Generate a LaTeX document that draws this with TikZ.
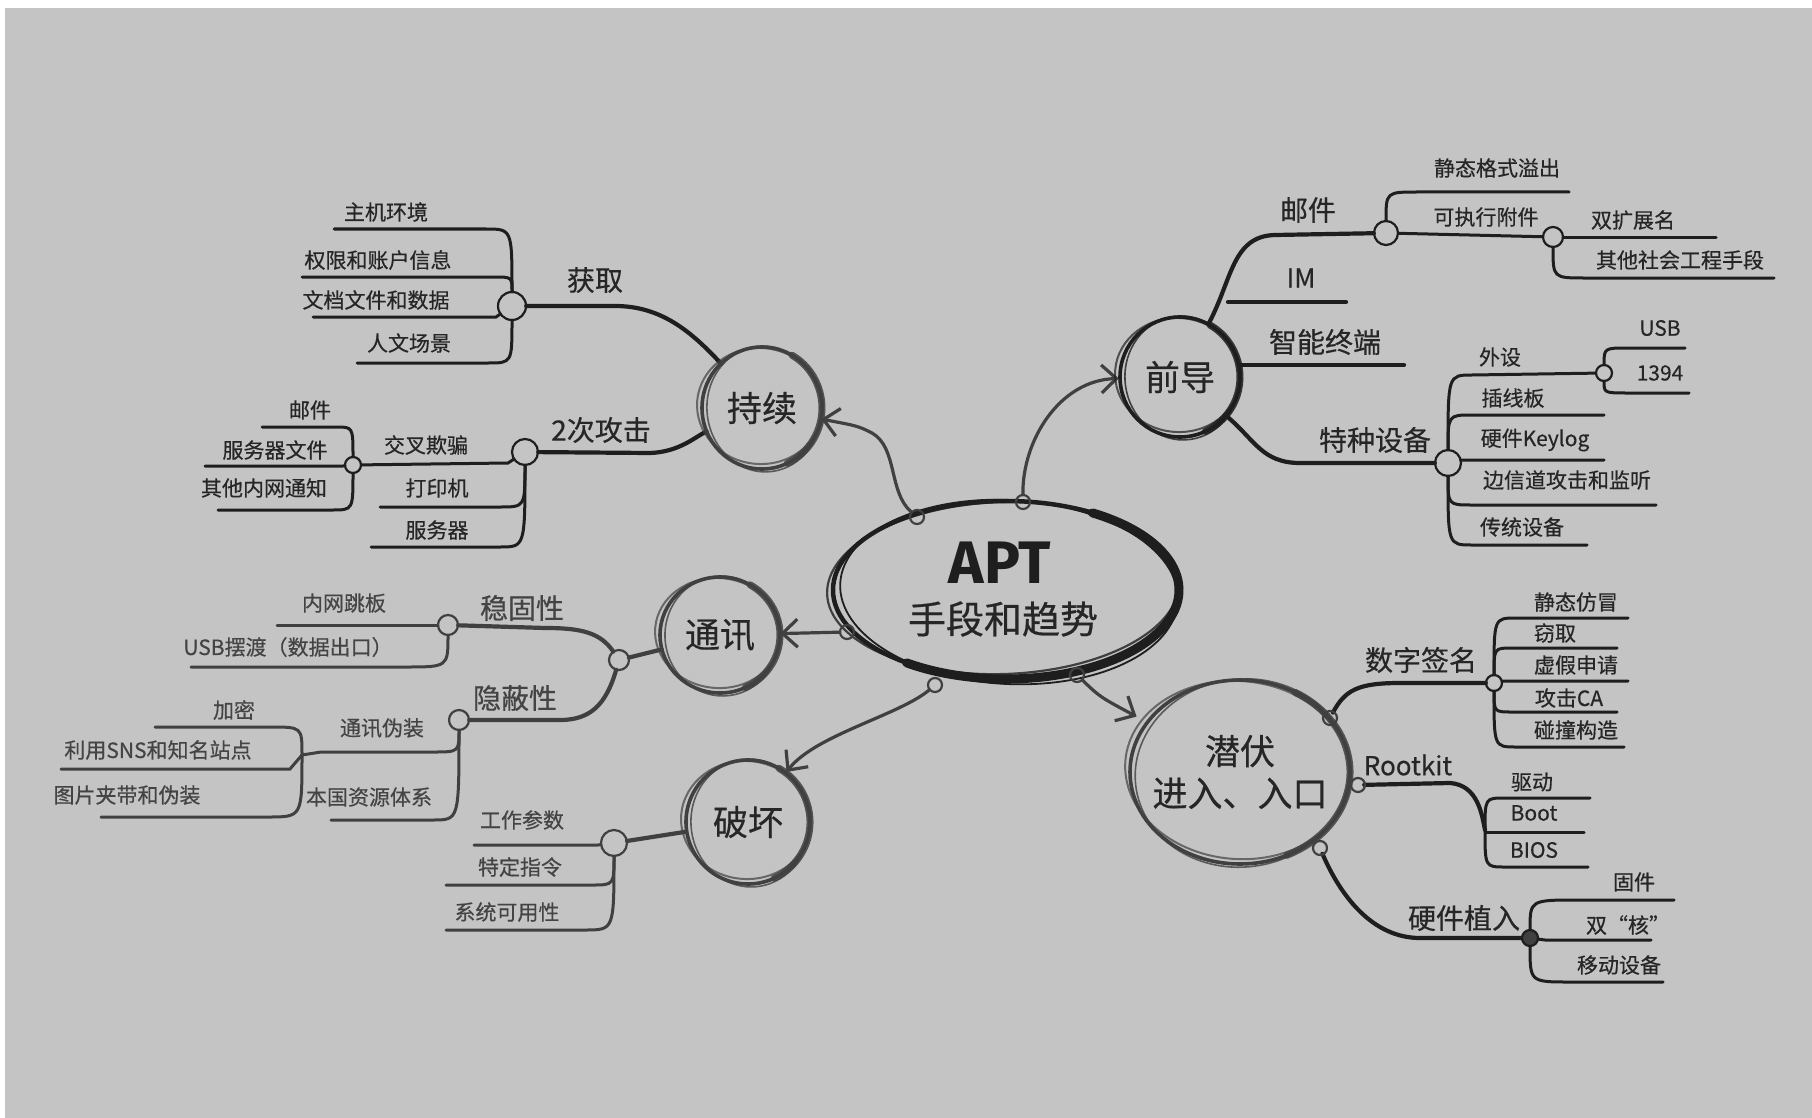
\documentclass[tikz,border=0pt]{standalone}
\usepackage{fontspec}
\usetikzlibrary{arrows.meta,shapes.geometric,calc}
\newfontfamily\cjkfont{Noto Sans CJK SC}[FakeBold=0.5]
\newfontfamily\aptfont{Fira Sans}

\definecolor{paper}{HTML}{C4C4C4}
\definecolor{ink}{HTML}{1E1E1E}
\definecolor{inksoft}{HTML}{404040}
\definecolor{txt}{HTML}{262626}
\definecolor{txtsoft}{HTML}{444444}

\tikzset{
  leaf/.style={font=\cjkfont\fontsize{21}{24}\selectfont, text=txt, inner sep=0pt},
  mid/.style={font=\cjkfont\fontsize{28}{32}\selectfont, text=txt, inner sep=0pt},
  topictext/.style={font=\cjkfont\fontsize{35}{42}\selectfont, text=txt, align=center},
  twigline/.style={draw=ink, line width=3pt, line cap=round},
  limb/.style={draw=ink, line width=4.2pt, line cap=round},
  hub/.style={circle, inner sep=0pt, minimum size=#1},
  knotring/.style={draw=ink, line width=2.2pt},
  flow/.style={draw=inksoft, line width=3.2pt, line cap=round,
    -{Straight Barb[length=15pt,width=28pt,line width=3.2pt]}},
}

% label with an underline hooked to a junction
\newcommand\twig[8]{%
  \node[leaf] (#2) at (#4,#5) {#3};
  \coordinate (#2n) at (#6,#8);
  \coordinate (#2f) at (#7,#8);
  \draw[twigline] (#1) .. controls (#1 |- #2n) .. (#2n) -- (#2f);
}
% same, joined by a straight stroke
\newcommand\twigs[8]{%
  \node[leaf] (#2) at (#4,#5) {#3};
  \coordinate (#2n) at (#6,#8);
  \coordinate (#2f) at (#7,#8);
  \draw[twigline] (#1) -- (#2n) -- (#2f);
}
% hand-drawn ring made of a few offset strokes
\newcommand\roughring[5]{%
  \pgfmathsetmacro\rra{#3-3}\pgfmathsetmacro\rrb{#4+2}%
  \pgfmathsetmacro\rrc{#3+3}\pgfmathsetmacro\rrd{#4-3}%
  \draw[draw=#5, line width=3.6pt] (#1,#2) ellipse [x radius=#3, y radius=#4];
  \draw[draw=#5, line width=1.6pt, opacity=.8] (#1+2,#2+1) ellipse [x radius=\rra, y radius=\rrb, rotate=7];
  \draw[draw=#5, line width=2pt, opacity=.7] (#1-2,#2-2) ellipse [x radius=\rrc, y radius=\rrd, rotate=-5];
  \draw[draw=#5, line width=7pt, opacity=.85, line cap=round] (#1,#2) ++(-60:#3 and #4)
     arc [start angle=-60, end angle=65, x radius=#3, y radius=#4];
}

\begin{document}
\begin{tikzpicture}[x=1pt,y=-1pt]
\useasboundingbox (0,0) rectangle (1812,1118);
\fill[white] (0,0) rectangle (1812,1118);
\fill[paper] (5,8) rectangle (1812,1118);

% ---------- main topics ----------
\node[ellipse, minimum width=346pt, minimum height=178pt, inner sep=0pt] (apt) at (1006,590) {};
\node[font=\aptfont\bfseries\fontsize{60}{62}\selectfont, text=ink, inner sep=0pt] (aptA) at (1000,563) {APT};
\node[font=\cjkfont\fontsize{38}{40}\selectfont, text=txt, inner sep=0pt] (aptB) at (1003,619) {手段和趋势};

\node[circle, minimum size=120pt, topictext] (chixu) at (762,408) {持续};
\node[circle, minimum size=122pt, topictext] (qiandao) at (1180,377) {前导};
\node[circle, minimum size=120pt, topictext] (tongxun) at (720,635) {通讯};
\node[circle, minimum size=126pt, topictext] (pohuai) at (748,822) {破坏};
\node[ellipse, minimum width=222pt, minimum height=186pt, topictext] (qianfu) at (1240,772) {潜伏\\进入、入口};

% ---------- junctions ----------
\node[hub=14pt] (d1) at (1023,502) {};
\node[hub=14pt] (d2) at (917,517) {};
\node[hub=14pt] (d3) at (847,632) {};
\node[hub=14pt] (d4) at (935,685) {};
\node[hub=14pt] (d5) at (1077,675) {};
\node[hub=12pt] (ds1) at (1330,718) {};
\node[hub=12pt] (ds2) at (1358,785) {};
\node[hub=12pt] (ds3) at (1320,848) {};

\node[hub=28pt] (jQuQu) at (512,306) {};
\node[hub=26pt] (jGj) at (525,452) {};
\node[hub=16pt] (jQp) at (353,465) {};
\node[hub=24pt] (jMail) at (1386,233) {};
\node[hub=20pt] (jExe) at (1553,237) {};
\node[hub=26pt] (jTz) at (1448,463) {};
\node[hub=16pt] (jWs) at (1604,373) {};
\node[hub=20pt] (jTx) at (619,660) {};
\node[hub=20pt] (jWg) at (448,625) {};
\node[hub=20pt] (jYb) at (459,720) {};
\coordinate (jWz) at (302,755);
\node[hub=26pt] (jPh) at (614,843) {};
\node[hub=16pt] (jSz) at (1494,683) {};
\coordinate (jRk) at (1485,830);
\node[hub=16pt] (jYj) at (1530,938) {};

% ---------- 持续 ----------
\node[mid] (qq) at (595,280) {获取};
\draw[limb] (jQuQu) -- (615,306) .. controls (660,306) and (690,330) .. (chixu);
\twig{jQuQu}{a1}{主机环境}{386}{212}{486}{334}{229}
\twig{jQuQu}{a2}{权限和账户信息}{378}{260}{494}{302}{277}
\twigs{jQuQu}{a3}{文档文件和数据}{376}{300}{496}{313}{317}
\twig{jQuQu}{a4}{人文场景}{409}{343}{488}{357}{363}

\node[mid] (gj) at (601,430) {2次攻击};
\draw[limb] (jGj) -- (650,453) .. controls (680,452) and (696,436) .. (chixu);
\node[leaf] (b1) at (426,445) {交叉欺骗};
\coordinate (b1n) at (508,463);
\draw[twigline] (jGj) -- (b1n) -- (jQp);
\twig{jGj}{b2}{打印机}{437}{488}{500}{380}{507}
\twig{jGj}{b3}{服务器}{437}{530}{500}{371}{547}
\twig{jQp}{c1}{邮件}{310}{410}{336}{262}{427}
\twigs{jQp}{c2}{服务器文件}{275}{450}{343}{205}{466}
\twig{jQp}{c3}{其他内网通知}{264}{488}{332}{218}{510}

% ---------- 前导 ----------
\node[mid] (mail) at (1308,210) {邮件};
\draw[limb] (qiandao) .. controls (1232,280) and (1232,236) .. (1275,235) -- (jMail);
\node[mid, font=\cjkfont\fontsize{26}{30}\selectfont] (im) at (1301,278) {IM};
\coordinate (imn) at (1228,302);
\coordinate (imf) at (1346,302);
\draw[limb] (imn) -- (imf);
\node[mid] (zn) at (1325,342) {智能终端};
\coordinate (znf) at (1404,365);
\draw[limb] (qiandao.east |- znf) -- (znf);
\node[mid] (tz) at (1375,440) {特种设备};
\draw[limb] (qiandao) .. controls (1255,440) and (1262,463) .. (1300,463) -- (jTz);

\twig{jMail}{m1}{静态格式溢出}{1497}{168}{1418}{1569}{192}
\node[leaf] (m2) at (1486,217) {可执行附件};
\draw[twigline] (jMail) -- (jExe);
\twigs{jExe}{n1}{双扩展名}{1633}{220}{1565}{1716}{237}
\twig{jExe}{n2}{其他社会工程手段}{1680}{260}{1585}{1774}{278}

\node[leaf] (t1) at (1500,357) {外设};
\coordinate (t1n) at (1472,375);
\draw[twigline] (jTz) .. controls (jTz |- t1n) .. (t1n) -- (jWs);
\twig{jWs}{u1}{USB}{1660}{328}{1628}{1685}{348}
\twig{jWs}{u2}{1394}{1660}{373}{1628}{1689}{393}
\twig{jTz}{t2}{插线板}{1513}{398}{1472}{1604}{415}
\twigs{jTz}{t3}{硬件Keylog}{1535}{440}{1462}{1604}{460}
\twig{jTz}{t4}{边信道攻击和监听}{1567}{480}{1472}{1656}{505}
\twig{jTz}{t5}{传统设备}{1522}{527}{1472}{1587}{545}

% ---------- 通讯 ----------
\begin{scope}[leaf/.append style={text=txtsoft}, mid/.append style={text=txtsoft},
              twigline/.append style={draw=inksoft}, limb/.append style={draw=inksoft}]
\draw[limb] (jTx) -- (tongxun);
\node[mid] (wg) at (522,608) {稳固性};
\draw[limb] (jTx) .. controls (600,632) and (580,628) .. (545,628) -- (jWg);
\twigs{jWg}{w1}{内网跳板}{344}{603}{432}{277}{625}
\twig{jWg}{w2}{USB摆渡（数据出口）}{288}{647}{405}{191}{667}
\node[mid] (yb) at (515,698) {隐蔽性};
\draw[limb] (jTx) .. controls (606,705) and (590,720) .. (560,720) -- (jYb);
\node[leaf] (v1) at (382,728) {通讯伪装};
\coordinate (v1n) at (433,752);
\coordinate (v1f) at (321,752);
\draw[twigline] (jYb) .. controls (jYb |- v1n) .. (v1n) -- (v1f) -- (jWz);
\twig{jYb}{v2}{本国资源体系}{369}{797}{433}{331}{820}
\twig{jWz}{x1}{加密}{234}{710}{270}{155}{727}
\twigs{jWz}{x2}{利用SNS和知名站点}{158}{750}{290}{61}{769}
\twig{jWz}{x3}{图片夹带和伪装}{127}{795}{268}{101}{817}

% ---------- 破坏 ----------
\draw[limb] (jPh) -- (pohuai);
\twigs{jPh}{p1}{工作参数}{522}{820}{598}{474}{845}
\twig{jPh}{p2}{特定指令}{520}{867}{592}{446}{885}
\twig{jPh}{p3}{系统可用性}{507}{912}{585}{446}{930}
\end{scope}

% ---------- 潜伏 ----------
\node[mid] (sz) at (1421,660) {数字签名};
\draw[limb] (ds1) .. controls (1345,690) and (1358,683) .. (1400,683) -- (jSz);
\twig{jSz}{s1}{静态仿冒}{1576}{602}{1516}{1628}{618}
\twig{jSz}{s2}{窃取}{1555}{633}{1512}{1617}{648}
\twigs{jSz}{s3}{虚假申请}{1576}{665}{1504}{1628}{681}
\twig{jSz}{s4}{攻击CA}{1569}{698}{1512}{1617}{712}
\twig{jSz}{s5}{碰撞构造}{1576}{730}{1516}{1624}{747}

\node[mid, font=\cjkfont\fontsize{26}{30}\selectfont] (rk) at (1408,765) {Rootkit};
\draw[limb] (ds2) -- (1450,783) .. controls (1478,785) and (1482,815) .. (jRk);
\twig{jRk}{r1}{驱动}{1532}{782}{1505}{1590}{798}
\twigs{jRk}{r2}{Boot}{1534}{813}{1485}{1584}{832}
\twig{jRk}{r3}{BIOS}{1534}{850}{1505}{1588}{867}

\node[mid] (yj) at (1464,918) {硬件植入};
\draw[limb] (ds3) .. controls (1340,895) and (1372,938) .. (1420,938) -- (jYj);
\twig{jYj}{h1}{固件}{1634}{882}{1578}{1674}{900}
\twigs{jYj}{h2}{双“核”}{1628}{925}{1545}{1651}{940}
\twig{jYj}{h3}{移动设备}{1619}{965}{1570}{1663}{982}

% ---------- arrows from the centre ----------
\draw[flow] (d2) .. controls (888,492) and (898,448) .. (872,433) .. controls (858,426) .. (chixu);
\draw[flow] (d1) .. controls (1022,440) and (1060,380) .. (qiandao);
\draw[flow] (d3) -- (tongxun);
\draw[flow] (d4) .. controls (900,715) and (815,735) .. (pohuai);
\draw[flow] (d5) .. controls (1100,697) .. (qianfu);

% ---------- rings ----------
\draw[draw=ink, line width=4.5pt] (1006,590) ellipse [x radius=173, y radius=89];
\draw[draw=ink, line width=1.8pt] (1009,592) ellipse [x radius=169, y radius=92, rotate=-3];
\draw[draw=ink, line width=2.2pt, opacity=.8] (1003,588) ellipse [x radius=176, y radius=86, rotate=2];
\draw[draw=ink, line width=9pt, line cap=round] (1006,590) ++(-60:173 and 89)
   arc [start angle=-60, end angle=125, x radius=173, y radius=89];

\roughring{762}{408}{60}{61}{inksoft}
\roughring{1180}{377}{60}{60}{ink}
\roughring{720}{635}{60}{58}{inksoft}
\roughring{748}{822}{62}{62}{inksoft}
\roughring{1240}{772}{110}{92}{inksoft}

% ---------- small junction rings ----------
\foreach \d in {d1,d2,d3,d4,d5,ds1,ds2,ds3}
  \draw[knotring, draw=inksoft] (\d) circle (7);
\draw[knotring] (jQuQu) circle (14);
\draw[knotring] (jGj) circle (13);
\draw[knotring] (jQp) circle (8);
\draw[knotring] (jMail) circle (12);
\draw[knotring] (jExe) circle (10);
\draw[knotring] (jTz) circle (13);
\draw[knotring] (jWs) circle (8);
\draw[knotring, draw=inksoft] (jTx) circle (10);
\draw[knotring, draw=inksoft] (jWg) circle (10);
\draw[knotring, draw=inksoft] (jYb) circle (10);
\draw[knotring, draw=inksoft] (jPh) circle (13);
\draw[knotring] (jSz) circle (8);
\draw[knotring, fill=inksoft] (jYj) circle (8);
\end{tikzpicture}
\end{document}
